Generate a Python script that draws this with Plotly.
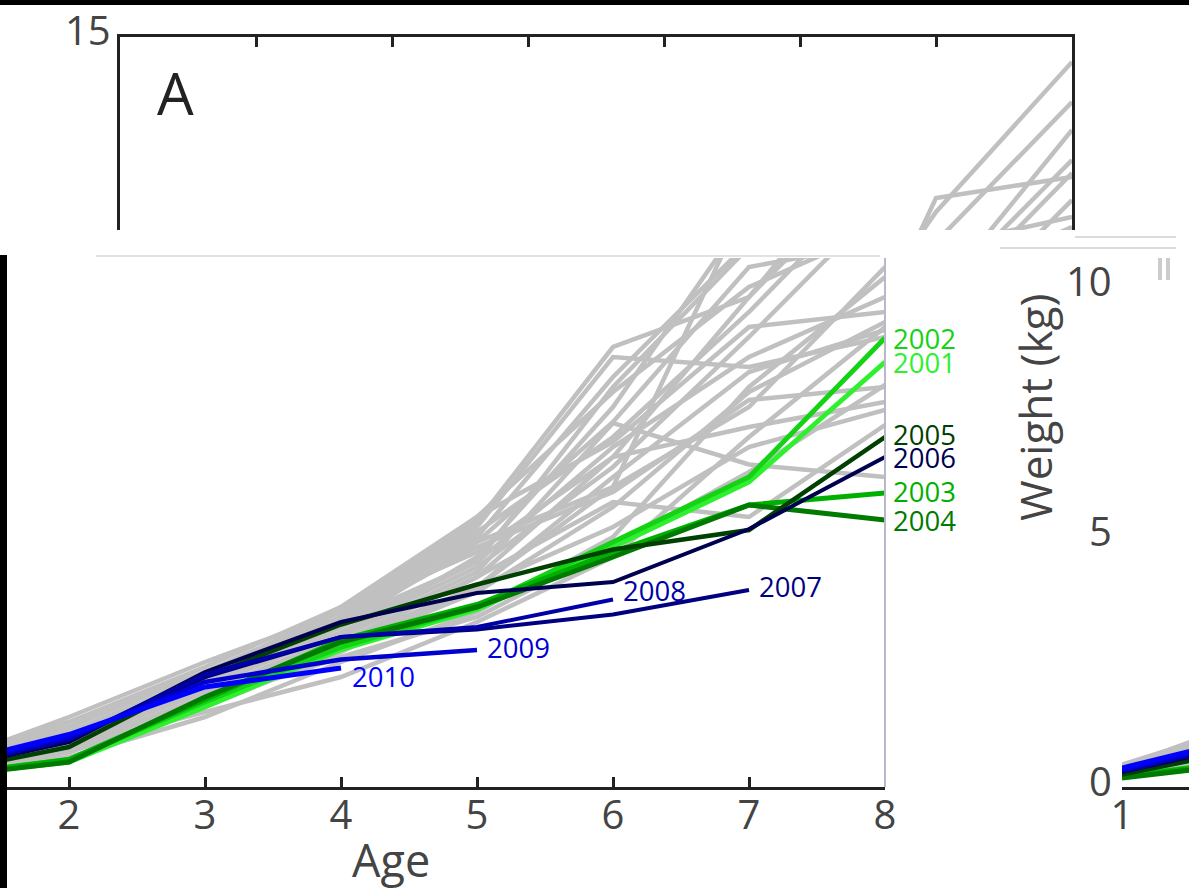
import plotly.graph_objects as go

# ---------------- data ----------------
ages = [1, 2, 3, 4, 5, 6, 7, 8]

# background cohorts (grey), weight (kg) at ages 1..8
gray_weights = [
    [0.30, 0.90, 1.90, 3.00, 4.60, 7.60, 11.50, 14.50],
    [0.35, 1.00, 2.10, 3.30, 5.00, 8.20, 10.90, 13.70],
    [0.30, 0.80, 1.80, 2.90, 4.20, 6.60, 9.80, 13.14],
    [0.40, 1.20, 2.30, 3.50, 5.30, 8.80, 9.80, 12.54],
    [0.25, 0.70, 1.60, 2.80, 4.00, 6.00, 11.78, 12.20],
    [0.35, 1.10, 2.20, 3.30, 5.10, 7.00, 9.50, 12.28],
    [0.30, 0.90, 2.00, 3.10, 4.40, 6.40, 9.00, 11.74],
    [0.40, 1.30, 2.40, 3.60, 5.40, 7.90, 10.00, 11.20],
    [0.30, 1.00, 2.00, 3.20, 4.90, 7.30, 10.40, 10.90],
    [0.35, 1.10, 2.10, 3.20, 4.50, 6.80, 8.60, 9.80],
    [0.30, 0.80, 1.70, 2.80, 3.90, 5.60, 7.90, 9.30],
    [0.25, 0.70, 1.60, 2.70, 4.00, 6.20, 8.30, 9.14],
    [0.35, 1.20, 2.30, 3.40, 5.20, 8.60, 8.40, 9.00],
    [0.30, 0.90, 1.90, 3.00, 4.30, 7.28, 6.45, 6.20],
    [0.30, 0.80, 1.80, 2.90, 4.20, 5.70, 5.40, 7.24],
    [0.35, 1.00, 2.10, 3.30, 4.80, 5.90, 7.74, 8.00],
    [0.30, 0.90, 1.90, 2.90, 4.00, 5.20, 6.80, 7.54],
    [0.40, 1.40, 2.50, 3.50, 4.70, 6.60, 7.20, 7.70],
    [0.25, 0.60, 1.40, 2.50, 3.50, 5.00, 8.00, 10.20],
    [0.45, 1.30, 2.30, 3.30, 4.50, 8.00, 10.80, 11.40],
    [0.35, 0.90, 1.70, 2.60, 3.40, 4.80, 6.30, 8.04],
    [0.30, 1.00, 2.20, 3.40, 5.40, 6.90, 9.20, 9.50],
    [0.28, 0.80, 1.50, 2.20, 3.30, 4.60, 7.00, 9.20],
    [0.40, 1.10, 2.20, 3.60, 4.90, 6.00, 7.60, 10.40],
]

highlight_years = [2001, 2002, 2003, 2004, 2005, 2006, 2007, 2008, 2009, 2010]
highlight_weights = [
    [0.20, 0.50, 1.60, 2.75, 3.55, 4.80, 6.10, 8.50],
    [0.22, 0.55, 1.70, 2.80, 3.60, 4.90, 6.20, 8.98],
    [0.20, 0.55, 1.75, 2.95, 3.65, 4.70, 5.64, 5.88],
    [0.18, 0.50, 1.80, 2.90, 3.60, 4.60, 5.64, 5.34],
    [0.25, 0.80, 2.20, 3.25, 4.05, 4.75, 5.14, 7.00],
    [0.30, 0.90, 2.30, 3.30, 3.88, 4.10, 5.16, 6.60],
    [0.30, 0.95, 2.20, 3.00, 3.15, 3.45, 3.94],
    [0.32, 0.95, 2.25, 3.00, 3.20, 3.75],
    [0.35, 1.00, 2.10, 2.55, 2.74],
    [0.38, 1.05, 2.00, 2.38],
]
highlight_colors = ['#2ef02e', '#14d214', '#00b000', '#007a00', '#004000',
                    '#000050', '#000080', '#0000a8', '#0000d0', '#0000ff']
highlight_widths = [5, 5, 5, 5, 4.5, 4, 4, 4, 4.5, 5]
# label offsets (px) relative to the end of each line
label_shift = [(6, 0), (6, 0), (6, 2), (6, 0), (6, 3), (6, 0),
               (8, 4), (8, 9), (8, 3), (9, -8)]

age_ticks = [2, 3, 4, 5, 6, 7, 8]
weight_ticks = [0, 5, 10]

# ---------------- layout helpers ----------------
W, H = 1189, 888
FONT = "Open Sans, Noto Sans, sans-serif"
AX = '#222222'
TXT = '#444444'


def px(x):
    return x / W


def py(y):
    return 1 - y / H


def wt(y):  # pixel row -> weight
    return (787 - y) / 50.0


fig = go.Figure()

panels = [('x', 'y'), ('x2', 'y2'), ('x3', 'y3')]
for xa, ya in panels:
    for g in gray_weights:
        fig.add_trace(go.Scatter(x=ages, y=g, mode='lines',
                                 line=dict(color='#c0c0c0', width=4.5),
                                 xaxis=xa, yaxis=ya, hoverinfo='skip',
                                 showlegend=False))
    for yr, w, c, lw in zip(highlight_years, highlight_weights,
                            highlight_colors, highlight_widths):
        fig.add_trace(go.Scatter(x=ages[:len(w)], y=w, mode='lines',
                                 line=dict(color=c, width=lw),
                                 xaxis=xa, yaxis=ya, name=str(yr),
                                 showlegend=False))

annotations = []
for yr, w, c, (dx, dy) in zip(highlight_years, highlight_weights,
                              highlight_colors, label_shift):
    annotations.append(dict(x=ages[len(w) - 1], y=w[-1], xref='x2', yref='y2',
                            text=str(yr), showarrow=False, xanchor='left',
                            yanchor='middle', xshift=dx, yshift=dy,
                            font=dict(family=FONT, size=27.5, color=c)))

# y tick labels (sitting slightly above the tick value, as in the original)
annotations.append(dict(x=px(113), y=15, xref='paper', yref='y',
                        text='15', showarrow=False, xanchor='right',
                        yanchor='middle', yshift=7,
                        font=dict(family=FONT, size=40, color=TXT)))
for v in weight_ticks:
    annotations.append(dict(x=px(1114), y=v, xref='paper', yref='y3',
                            text=str(v), showarrow=False, xanchor='right',
                            yanchor='middle', yshift=7,
                            font=dict(family=FONT, size=40, color=TXT)))

annotations.append(dict(x=px(1035), y=py(408), xref='paper', yref='paper',
                        text='Weight (kg)', showarrow=False, textangle=-90,
                        xanchor='center', yanchor='middle',
                        font=dict(family=FONT, size=44, color=TXT)))
annotations.append(dict(x=px(391), y=py(859), xref='paper', yref='paper',
                        text='Age', showarrow=False,
                        xanchor='center', yanchor='middle',
                        font=dict(family=FONT, size=45, color=TXT)))
annotations.append(dict(x=px(155), y=py(92), xref='paper', yref='paper',
                        text='A', showarrow=False, xanchor='left',
                        yanchor='middle',
                        font=dict(family=FONT, size=58, color=AX)))

shapes = [
    # black border fragments
    dict(type='rect', xref='paper', yref='paper', x0=0, x1=1,
         y0=py(5), y1=1, fillcolor='black', line=dict(width=0)),
    dict(type='rect', xref='paper', yref='paper', x0=0, x1=px(7),
         y0=0, y1=py(255), fillcolor='black', line=dict(width=0)),
    # thin right border of the lower panel
    dict(type='line', xref='paper', yref='paper', x0=px(885), x1=px(885),
         y0=py(787), y1=py(258), line=dict(color='#b8b8c8', width=2)),
    # faint seam lines
    dict(type='line', xref='paper', yref='paper', x0=px(96), x1=px(880),
         y0=py(256), y1=py(256), line=dict(color='#e2e2e2', width=2)),
    dict(type='line', xref='paper', yref='paper', x0=px(1000), x1=px(1176),
         y0=py(248), y1=py(248), line=dict(color='#dcdcdc', width=2)),
    dict(type='line', xref='paper', yref='paper', x0=px(1075), x1=px(1176),
         y0=py(237), y1=py(237), line=dict(color='#dcdcdc', width=2)),
    # small grey bars on the right fragment
    dict(type='rect', xref='paper', yref='paper', x0=px(1158), x1=px(1162),
         y0=py(280), y1=py(258), fillcolor='#cccccc', line=dict(width=0)),
    dict(type='rect', xref='paper', yref='paper', x0=px(1166), x1=px(1170),
         y0=py(280), y1=py(258), fillcolor='#cccccc', line=dict(width=0)),
]

common_axis = dict(showgrid=False, zeroline=False, automargin=False)

fig.update_layout(
    width=W, height=H, autosize=False,
    margin=dict(l=0, r=0, t=0, b=0, pad=0, autoexpand=False),
    paper_bgcolor='white', plot_bgcolor='white',
    font=dict(family=FONT, color=TXT),
    showlegend=False,
    annotations=annotations,
    shapes=shapes,
    # top panel
    xaxis=dict(domain=[px(120), px(1072)], range=[1, 8], anchor='y',
               side='top', showline=True, linewidth=3, linecolor=AX,
               ticks='inside', ticklen=10, tickwidth=3, tickcolor=AX,
               tickvals=[2, 3, 4, 5, 6, 7], showticklabels=False,
               **common_axis),
    yaxis=dict(domain=[py(230), py(37)], range=[wt(230), 15], anchor='x',
               showline=True, mirror=True, linewidth=3, linecolor=AX,
               ticks='', showticklabels=False,
               **common_axis),
    # lower (main) panel
    xaxis2=dict(domain=[px(7), px(885)], range=[210 / 136, 8], anchor='y2',
                showline=True, linewidth=3, linecolor=AX,
                ticks='inside', ticklen=10, tickwidth=3, tickcolor=AX,
                tickvals=age_ticks, ticktext=[str(a) for a in age_ticks],
                tickfont=dict(size=40, color=TXT, family=FONT),
                ticklabelstandoff=-9,
                **common_axis),
    yaxis2=dict(domain=[py(787), py(258)], range=[0, wt(258)], anchor='x2',
                showline=False, showticklabels=False, ticks='',
                **common_axis),
    # right fragment
    xaxis3=dict(domain=[px(1122), 1], range=[1, 1 + 67 / 136], anchor='y3',
                showline=True, linewidth=3, linecolor=AX,
                ticks='', tickvals=[1], ticktext=['1'],
                tickfont=dict(size=40, color=TXT, family=FONT),
                ticklabelstandoff=-9,
                **common_axis),
    yaxis3=dict(domain=[py(787), py(258)], range=[0, wt(258)], anchor='x3',
                showline=False, ticks='', showticklabels=False,
                **common_axis),
)

fig.write_html("out.html",
               config={'displayModeBar': False},
               post_script="document.body.style.margin='0px';"
                           "document.body.style.padding='0px';")
